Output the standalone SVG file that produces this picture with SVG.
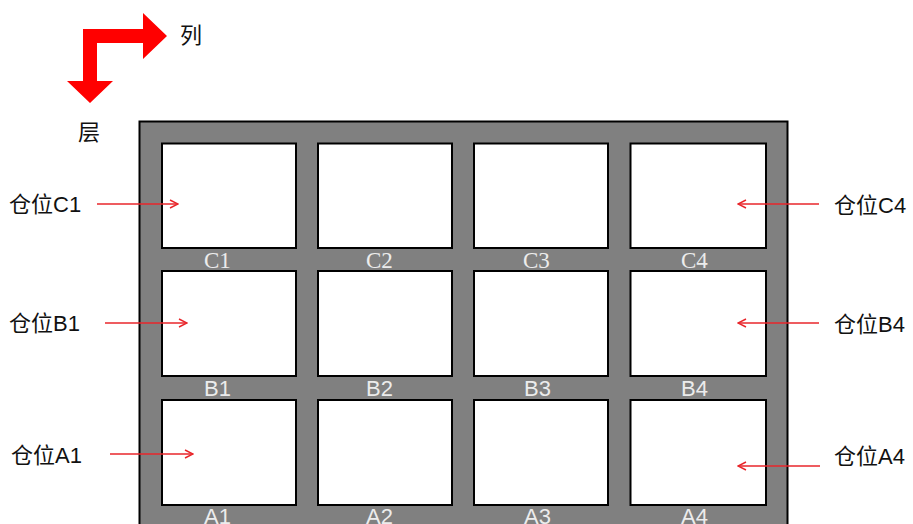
<svg xmlns="http://www.w3.org/2000/svg" width="913" height="524" viewBox="0 0 913 524">
<defs>
<marker id="ah" viewBox="0 0 10 10" refX="9" refY="5" markerWidth="10" markerHeight="10" markerUnits="userSpaceOnUse" orient="auto">
<path d="M1,1 L9,5 L1,9" fill="none" stroke="#e8262b" stroke-width="1.4"/>
</marker>
</defs>
<style>
.cell{fill:#fff;stroke:#000;stroke-width:2}
.frame{fill:#808080;stroke:#000;stroke-width:2}
.lbl{font-family:"Liberation Sans","Noto Sans CJK SC",sans-serif;font-size:22px;fill:#111}
.cl{font-family:"Liberation Sans",sans-serif;font-size:22px;fill:#ececec}
.cls{font-family:"Liberation Serif",serif;font-size:23px;fill:#ececec}
.conn{stroke:#e8262b;stroke-width:1.4;fill:none;marker-end:url(#ah)}
</style>
<rect width="913" height="524" fill="#fff"/>
<g id="direction">
<path d="M83,29 L143,29 L143,13 L167,36 L143,59 L143,43 L97,43 L97,81 L113,81 L90,103 L67,81 L83,81 Z" fill="#ff0000"/>
<text class="lbl" x="180" y="43">列</text>
<text class="lbl" x="78" y="140">层</text>
</g>
<g id="rack">
<rect class="frame" x="139.5" y="121.5" width="648" height="420"/>
</g>
<g id="C1"><rect class="cell" x="162" y="143.5" width="134" height="104.5"/><text class="cls" x="204" y="268">C1</text></g>
<g id="C2"><rect class="cell" x="318" y="143.5" width="134" height="104.5"/><text class="cls" x="366" y="268">C2</text></g>
<g id="C3"><rect class="cell" x="474" y="143.5" width="134" height="104.5"/><text class="cls" x="523" y="268">C3</text></g>
<g id="C4"><rect class="cell" x="630.5" y="143.5" width="135.5" height="104.5"/><text class="cls" x="681" y="268">C4</text></g>
<g id="B1"><rect class="cell" x="162" y="271" width="134" height="105"/><text class="cl" x="204" y="396">B1</text></g>
<g id="B2"><rect class="cell" x="318" y="271" width="134" height="105"/><text class="cl" x="366" y="396">B2</text></g>
<g id="B3"><rect class="cell" x="474" y="271" width="134" height="105"/><text class="cl" x="524" y="396">B3</text></g>
<g id="B4"><rect class="cell" x="630.5" y="271" width="135.5" height="105"/><text class="cl" x="681" y="396">B4</text></g>
<g id="A1"><rect class="cell" x="162" y="400" width="134" height="105"/><text class="cl" x="204" y="524">A1</text></g>
<g id="A2"><rect class="cell" x="318" y="400" width="134" height="105"/><text class="cl" x="366" y="524">A2</text></g>
<g id="A3"><rect class="cell" x="474" y="400" width="134" height="105"/><text class="cl" x="524" y="524">A3</text></g>
<g id="A4"><rect class="cell" x="630.5" y="400" width="135.5" height="105"/><text class="cl" x="681" y="524">A4</text></g>
<g id="label-C1"><text class="lbl" x="9" y="212">仓位C1</text></g>
<g id="label-B1"><text class="lbl" x="9" y="331">仓位B1</text></g>
<g id="label-A1"><text class="lbl" x="11" y="463">仓位A1</text></g>
<g id="label-C4"><text class="lbl" x="834" y="213">仓位C4</text></g>
<g id="label-B4"><text class="lbl" x="834" y="332">仓位B4</text></g>
<g id="label-A4"><text class="lbl" x="834" y="464">仓位A4</text></g>
<g id="connectors">
<line class="conn" x1="97" y1="204" x2="178" y2="204"/>
<line class="conn" x1="105" y1="323" x2="187" y2="323"/>
<line class="conn" x1="110" y1="454" x2="193" y2="454"/>
<line class="conn" x1="819" y1="204" x2="738" y2="204"/>
<line class="conn" x1="819" y1="323" x2="738" y2="323"/>
<line class="conn" x1="820" y1="466" x2="738" y2="466"/>
</g>
</svg>
